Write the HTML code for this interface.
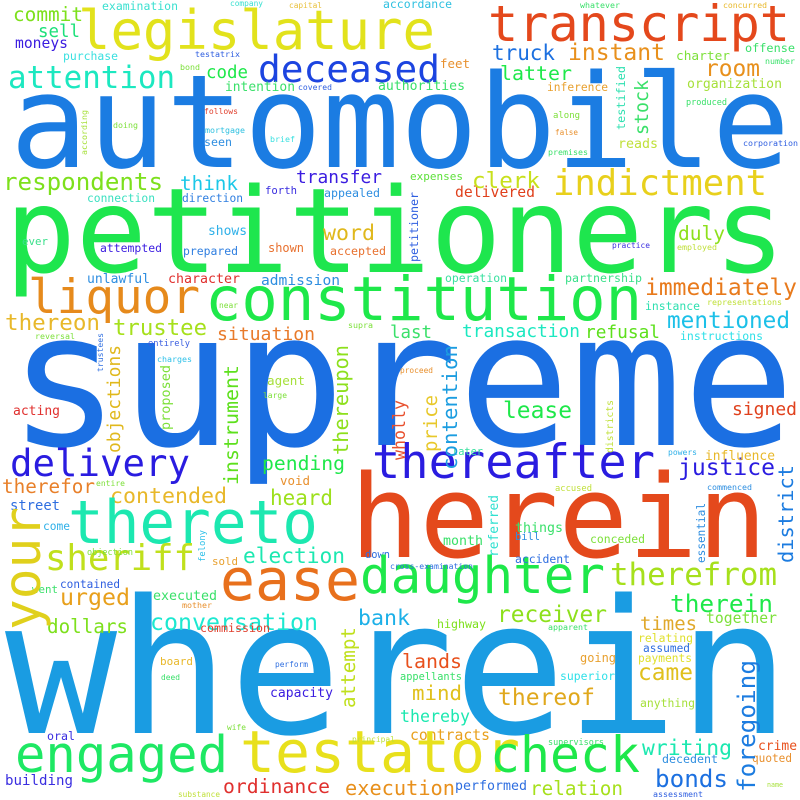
<!DOCTYPE html>
<html><head><meta charset="utf-8">
<style>
html,body{margin:0;padding:0;background:#fff;}
svg{display:block;}
text{font-family:"DejaVu Sans Mono","Liberation Mono",monospace;}
</style></head>
<body>
<svg id="cloud" width="800" height="800" viewBox="0 0 800 800" xmlns="http://www.w3.org/2000/svg">
<rect width="800" height="800" fill="#ffffff"/>
</svg>
<script>
// horizontal words: [text, xLeft, xRight, baseline, fontSizeHint, color]
const hWords = [
["automobile",10,790,167,136,"#1b7ce2"],
["petitioners",5,785,272,123,"#1ee64e"],
["supreme",8,795,445,184,"#1b6fe2"],
["wherein",5,790,733,184,"#1a9ce2"],
["herein",350,767,557,110,"#e4491c"],
["constitution",205,642,320,68,"#1ee84a"],
["liquor",28,200,313,52,"#e68a1c"],
["legislature",78,435,49,62,"#e2e21c"],
["transcript",488,790,41,48,"#e4481c"],
["deceased",258,440,82,36,"#1c44e0"],
["attention",8,175,88,32,"#1ce8c0"],
["commit",13,83,21,20,"#7de01c"],
["sell",38,80,37,20,"#1ce07a"],
["moneys",15,68,48,15,"#3a1ce0"],
["purchase",63,118,60,13,"#3ae0e0"],
["examination",102,178,10,13,"#3ae0d0"],
["company",230,263,6,9,"#3ae0d0"],
["capital",289,322,8,9,"#e8c03a"],
["accordance",383,452,8,12,"#2ec0e0"],
["testatrix",195,240,57,9,"#2e5ee0"],
["bond",180,200,70,10,"#7de03a"],
["code",206,248,78,20,"#1ee84a"],
["intention",225,295,91,15,"#3ae06a"],
["covered",298,332,90,10,"#2e5ee0"],
["authorities",378,465,90,14,"#3ae06a"],
["follows",204,238,114,10,"#e0402e"],
["doing",113,138,128,10,"#7de03a"],
["mortgage",205,245,133,10,"#2ec0e0"],
["brief",270,295,142,10,"#3ae0e0"],
["seen",204,232,146,14,"#2e8ee0"],
["respondents",3,163,190,28,"#7de01c"],
["think",180,238,190,28,"#1cc8e8"],
["transfer",296,382,183,22,"#3a1ce0"],
["connection",87,155,202,13,"#3ae0c0"],
["direction",182,243,202,15,"#2e7ee0"],
["forth",265,297,194,14,"#3a2ee0"],
["appealed",324,380,197,15,"#2e8ee0"],
["shows",208,247,235,15,"#2eb0e8"],
["word",323,375,240,28,"#e0b81c"],
["ever",22,48,245,12,"#3ae08a"],
["attempted",100,162,252,14,"#3a1ce0"],
["prepared",183,238,255,15,"#2e7ee0"],
["shown",268,304,252,14,"#e8702e"],
["accepted",330,386,255,15,"#e8702e"],
["unlawful",87,150,283,15,"#2e8ee0"],
["character",168,240,283,16,"#e0302e"],
["admission",261,340,285,16,"#2e8ee0"],
["near",219,238,308,10,"#7de03a"],
["thereon",5,100,330,26,"#e8b82a"],
["trustee",113,207,335,27,"#a6e01c"],
["situation",217,315,340,24,"#e87a2a"],
["supra",348,373,328,14,"#7de03a"],
["reversal",35,75,339,10,"#7de03a"],
["entirely",148,190,346,10,"#3a5ee0"],
["charges",157,192,362,10,"#2ec0e8"],
["agent",267,305,385,15,"#a6e03a"],
["large",263,287,398,11,"#7de03a"],
["acting",13,60,415,15,"#e0302e"],
["delivery",10,190,476,36,"#2a1ce0"],
["therefor",2,95,493,22,"#e8802a"],
["entire",96,125,486,10,"#7de03a"],
["pending",262,345,470,25,"#1ee84a"],
["void",280,310,485,14,"#e8902e"],
["contended",110,227,503,24,"#e8b82a"],
["heard",270,333,505,26,"#9de01c"],
["street",10,60,510,16,"#2e6ee0"],
["thereto",68,318,543,60,"#1ce8b0"],
["come",43,70,530,12,"#2eb0e8"],
["sheriff",45,195,570,40,"#c0e01c"],
["election",243,345,563,26,"#1ce8b0"],
["objection",87,133,555,10,"#7de03a"],
["sold",212,238,565,13,"#e8a02e"],
["down",365,390,558,10,"#2e6ee0"],
["ease",220,360,600,62,"#e8701c"],
["daughter",360,605,593,51,"#1ee84a"],
["contained",60,120,588,14,"#2e5ee0"],
["went",32,58,593,13,"#3ae06a"],
["urged",60,130,605,27,"#e8a01c"],
["executed",153,217,600,16,"#3ae06a"],
["mother",182,212,608,11,"#e8902e"],
["conversation",150,318,630,28,"#1ce8d0"],
["bank",358,410,625,28,"#1cb0e8"],
["dollars",47,128,633,25,"#7de01c"],
["commission",200,270,632,14,"#e0402e"],
["therefrom",610,777,585,34,"#a6e01c"],
["therein",670,773,612,26,"#1ee84a"],
["together",706,777,623,16,"#7de03a"],
["receiver",497,607,622,28,"#8de01c"],
["highway",437,486,628,14,"#7de01c"],
["apparent",548,588,630,10,"#3ae06a"],
["times",640,697,630,22,"#e0a82a"],
["relating",638,693,642,14,"#e0e02e"],
["assumed",643,690,652,13,"#2e6ee0"],
["payments",638,692,662,12,"#e0e02e"],
["lands",402,462,668,26,"#e8501c"],
["going",580,616,662,15,"#e8a02e"],
["appellants",400,462,680,15,"#3ae06a"],
["superior",560,615,680,15,"#2ee0e8"],
["came",638,693,680,28,"#e0c01c"],
["mind",412,462,700,28,"#e0c01c"],
["thereof",498,595,705,28,"#e0a81c"],
["anything",640,695,707,14,"#a6e03a"],
["thereby",400,470,722,22,"#1ce8b0"],
["contracts",410,490,740,19,"#e8a01c"],
["supervisors",548,604,745,10,"#3ae06a"],
["writing",642,732,755,26,"#1ce8b0"],
["crime",758,797,750,15,"#e8501c"],
["decedent",662,718,763,15,"#2e8ee0"],
["quoted",752,792,762,15,"#e8902e"],
["engaged",15,228,772,50,"#1ee864"],
["testator",240,520,772,55,"#e8e01c"],
["check",490,640,772,50,"#1ee84a"],
["bonds",655,728,787,28,"#1c70e0"],
["building",5,73,785,16,"#3a2ee0"],
["ordinance",223,330,793,22,"#e0302e"],
["execution",345,455,795,22,"#e8901c"],
["performed",455,527,790,15,"#2e6ee0"],
["relation",530,623,795,26,"#a6e01c"],
["substance",178,220,797,10,"#c0e03a"],
["assessment",653,703,797,10,"#2e5ee0"],
["name",767,783,787,9,"#a6e03a"],
["oral",47,75,740,15,"#3a2ee0"],
["perform",275,308,667,12,"#2e6ee0"],
["board",160,193,665,15,"#e8b82a"],
["deed",161,180,680,12,"#3ae06a"],
["capacity",270,333,697,18,"#3a1ce0"],
["wife",227,246,730,12,"#7de03a"],
["principal",352,395,742,11,"#c0e03a"],
["cross-examination",390,473,569,10,"#2e6ee0"],
["accident",515,570,563,16,"#2e6ee0"],
["bill",515,540,540,14,"#2e8ee0"],
["month",443,483,545,17,"#3ae06a"],
["things",515,563,532,17,"#3ae06a"],
["conceded",590,645,543,15,"#7de03a"],
["accused",555,592,491,11,"#c0e03a"],
["commenced",707,752,490,10,"#2e8ee0"],
["justice",678,775,475,30,"#2a1ce0"],
["thereafter",372,655,478,45,"#2a1ce0"],
["later",452,483,455,12,"#3ae0a0"],
["powers",668,697,455,10,"#2eb0e8"],
["influence",705,775,460,15,"#e8b82a"],
["lease",503,572,418,24,"#1ee84a"],
["signed",732,797,415,22,"#e0401c"],
["proceed",400,433,373,11,"#e8902e"],
["transaction",462,580,337,22,"#1ce8c0"],
["refusal",585,660,338,24,"#5de01c"],
["last",390,432,338,22,"#3ae06a"],
["mentioned",667,790,328,26,"#1cc0e8"],
["instructions",680,763,340,14,"#2ee0e8"],
["immediately",645,797,295,30,"#e87a1c"],
["instance",645,700,310,14,"#2ee0b0"],
["representations",707,782,305,10,"#c0e03a"],
["operation",445,507,282,14,"#3ae0a0"],
["partnership",565,642,282,14,"#3ae08a"],
["practice",612,650,248,10,"#3a2ee0"],
["employed",677,717,250,10,"#c0e03a"],
["expenses",410,463,180,14,"#5de03a"],
["delivered",455,535,197,18,"#e0401c"],
["clerk",472,540,188,27,"#c8e01c"],
["indictment",553,767,195,40,"#e8d01c"],
["duly",678,725,240,26,"#8de01c"],
["organization",687,782,88,16,"#a6e03a"],
["room",705,760,76,26,"#e8901c"],
["charter",676,730,60,16,"#7de03a"],
["reads",618,658,148,16,"#c0e03a"],
["along",553,580,118,11,"#7de03a"],
["false",555,578,135,11,"#e8902e"],
["premises",548,588,155,11,"#3ae06a"],
["corporation",743,798,146,10,"#2e5ee0"],
["produced",686,727,105,10,"#3ae06a"],
["inference",547,608,91,14,"#e8a02e"],
["latter",500,572,80,26,"#1ee84a"],
["feet",440,470,68,17,"#e8902e"],
["truck",492,555,60,26,"#1c70e0"],
["instant",568,665,60,27,"#e8901c"],
["offense",745,795,52,14,"#3ae06a"],
["number",765,795,64,10,"#3ae06a"],
["whatever",580,620,8,10,"#3ae06a"],
["concurred",723,767,8,10,"#e8b82a"]
];
// vertical words (read bottom-to-top): [text, xBaseline, yBottom, yTop, fontSizeHint, color]
const vWords = [
["according",87,155,110,10,"#a6e03a"],
["trustees",103,372,333,10,"#2e6ee0"],
["objections",120,453,345,17,"#e0b81c"],
["proposed",170,430,365,13,"#7de03a"],
["instrument",238,485,365,20,"#5de01c"],
["thereupon",348,455,345,22,"#8de01c"],
["your",40,630,507,52,"#e0d01c"],
["felony",205,562,530,10,"#2ec0e8"],
["attempt",355,708,627,22,"#c0e01c"],
["foregoing",755,792,660,32,"#1c7ce0"],
["referred",498,557,495,13,"#2ee0d0"],
["essential",705,563,503,13,"#2e8ee0"],
["district",793,563,465,26,"#1c7ce0"],
["districts",613,453,400,12,"#c0e03a"],
["price",437,452,395,24,"#e8c82a"],
["contention",457,470,345,20,"#1c9de0"],
["wholly",405,460,400,14,"#e8502e"],
["petitioner",418,262,192,13,"#2e5ee0"],
["stock",648,135,80,22,"#3ae06a"],
["testified",625,130,66,13,"#2ee0b0"]
];
const svg = document.getElementById('cloud');
const NS = 'http://www.w3.org/2000/svg';
const ADV = 0.602;
function slug(t){return t.replace(/[^a-z0-9]+/gi,'-').toLowerCase();}
function natSize(text, len){return len/(text.length*ADV);}
hWords.forEach(w => {
  const len = w[2]-w[1];
  const fs = natSize(w[0], len);
  const t = document.createElementNS(NS,'text');
  t.setAttribute('x', w[1]);
  t.setAttribute('y', w[3]);
  t.setAttribute('font-size', fs.toFixed(1));
  t.setAttribute('fill', w[5]);
  t.setAttribute('textLength', len);
  t.setAttribute('lengthAdjust', 'spacingAndGlyphs');
  
  
  t.textContent = w[0];
  svg.appendChild(t);
});
vWords.forEach(w => {
  const len = w[2]-w[3];
  const fs = natSize(w[0], len);
  const t = document.createElementNS(NS,'text');
  t.setAttribute('x', w[1]);
  t.setAttribute('y', w[2]);
  t.setAttribute('font-size', fs.toFixed(1));
  t.setAttribute('fill', w[5]);
  t.setAttribute('textLength', len);
  t.setAttribute('lengthAdjust', 'spacingAndGlyphs');
  t.setAttribute('transform', 'rotate(-90 ' + w[1] + ' ' + w[2] + ')');
  
  
  t.textContent = w[0];
  svg.appendChild(t);
});
</script>
</body></html>
